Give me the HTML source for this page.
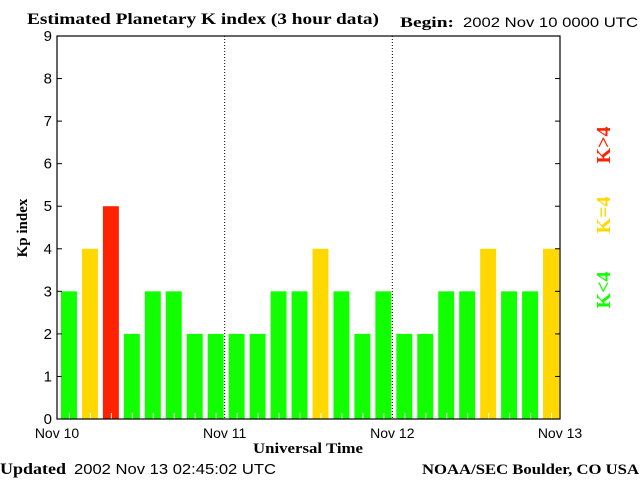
<!DOCTYPE html>
<html><head><meta charset="utf-8"><style>
body{margin:0;background:#fff;width:640px;height:480px;overflow:hidden}
svg text{font-family:"Liberation Sans",sans-serif}
.s{font-family:"Liberation Serif",serif;font-weight:bold}
</style></head><body>
<svg id="c" width="640" height="480" xmlns="http://www.w3.org/2000/svg">
<text x="27" y="24" class="s" font-size="16" textLength="352" lengthAdjust="spacingAndGlyphs">Estimated Planetary K index (3 hour data)</text>
<text x="400" y="27" class="s" font-size="15" textLength="54" lengthAdjust="spacingAndGlyphs">Begin:</text>
<text x="463" y="27" font-size="14" textLength="175" lengthAdjust="spacingAndGlyphs">2002 Nov 10 0000 UTC</text>
<text x="0" y="474" class="s" font-size="16" textLength="66" lengthAdjust="spacingAndGlyphs">Updated</text>
<text x="74" y="474" font-size="15" textLength="202" lengthAdjust="spacingAndGlyphs">2002 Nov 13 02:45:02 UTC</text>
<text x="422" y="474" class="s" font-size="15" textLength="217" lengthAdjust="spacingAndGlyphs">NOAA/SEC Boulder, CO USA</text>
<text x="308" y="453" class="s" font-size="15" text-anchor="middle" textLength="110" lengthAdjust="spacingAndGlyphs">Universal Time</text>
<text transform="translate(27,228) rotate(-90)" class="s" font-size="15" text-anchor="middle">Kp index</text>
<g id="bars"></g>
<g id="axes"></g>
<text transform="translate(610,145) rotate(-90)" class="s" font-size="20" fill="#ff2200" text-anchor="middle">K&gt;4</text>
<text transform="translate(610,215) rotate(-90)" class="s" font-size="20" fill="#ffd800" text-anchor="middle">K=4</text>
<text transform="translate(610,290) rotate(-90)" class="s" font-size="20" fill="#11ff00" text-anchor="middle">K&lt;4</text>
</svg>
<script>
const kpValues=[3,4,5,2,3,3,2,2,2,2,3,3,4,3,2,3,2,2,3,3,4,3,3,4];
const dayLabels=["Nov 10","Nov 11","Nov 12","Nov 13"];
const yTicks=[0,1,2,3,4,5,6,7,8,9];
const L=57,R=560,T=36,B=419,NS="http://www.w3.org/2000/svg";
const slot=(R-L)/kpValues.length;
const y=v=>B-(v/9)*(B-T);
const x=i=>L+i*slot;
function mk(t,a,p){const e=document.createElementNS(NS,t);for(const k in a)e.setAttribute(k,a[k]);p.appendChild(e);return e;}
const bars=document.getElementById('bars'),axes=document.getElementById('axes');
kpValues.forEach((v,i)=>{
 const col=v>4?'#ff2200':v==4?'#ffd800':'#11ff00';
 const r=mk('rect',{x:x(i)+4,y:y(v),width:slot-5,height:B-y(v),fill:col},bars);
 
 
 const t=mk('line',{x1:x(i)+slot/2+2,x2:x(i)+slot/2+2,y1:B-6,y2:B,stroke:'#fff'},bars);
 
 
});
dayLabels.forEach((d,i)=>{
 const xx=L+i*(R-L)/3;
 if(i>0&&i<3){const l=mk('line',{x1:xx,x2:xx,y1:T,y2:B,stroke:'#000','stroke-dasharray':'1,2'},axes);
 
 }
 const t=mk('text',{x:xx,y:438,'font-size':14,'text-anchor':'middle'},axes);t.textContent=d;
 
 
});
yTicks.forEach(v=>{
 mk('line',{x1:L,x2:L+5,y1:y(v),y2:y(v),stroke:'#000'},axes);
 mk('line',{x1:R-5,x2:R,y1:y(v),y2:y(v),stroke:'#000'},axes);
 const t=mk('text',{x:L-5,y:y(v)+5,'font-size':15,'text-anchor':'end'},axes);t.textContent=v;
 
 
});
const f=mk('rect',{x:L,y:T,width:R-L,height:B-T,fill:'none',stroke:'#000','stroke-width':1.2},axes);


</script>
</body></html>
